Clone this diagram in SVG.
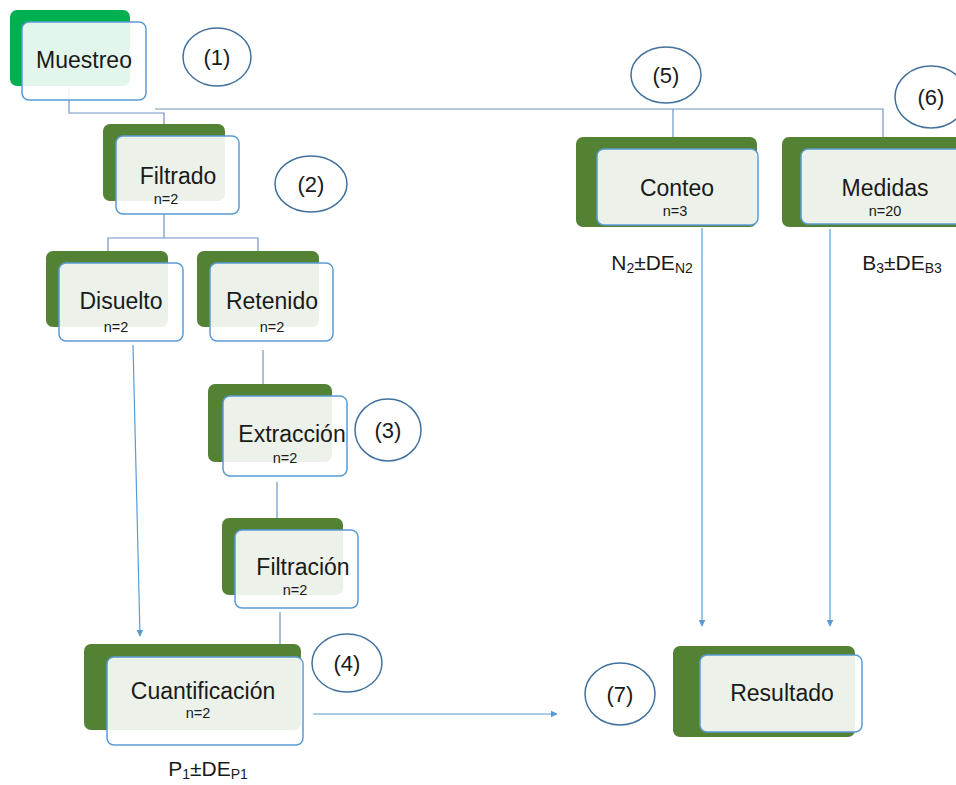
<svg xmlns="http://www.w3.org/2000/svg" width="956" height="785" viewBox="0 0 956 785">
<defs>
<style>
.bk{fill:#548235;}
.bkg{fill:#00B050;}
.fr{fill:#ffffff;fill-opacity:0.89;stroke:#5B9BD5;stroke-width:1.5;}
.lbl{font-family:"Liberation Sans",Arial,sans-serif;font-size:23px;fill:#1a1a1a;text-anchor:middle;}
.n{font-family:"Liberation Sans",Arial,sans-serif;font-size:14.5px;fill:#1a1a1a;text-anchor:middle;}
.el{fill:#ffffff;stroke:#41719C;stroke-width:1.5;}
.num{font-family:"Liberation Sans",Arial,sans-serif;font-size:22px;fill:#1a1a1a;text-anchor:middle;}
.res{font-family:"Liberation Sans",Arial,sans-serif;font-size:21px;fill:#1a1a1a;text-anchor:middle;}
.ln{fill:none;stroke:#6F93C2;stroke-width:1.2;}
.ar{fill:none;stroke:#5B9BD5;stroke-width:1.2;marker-end:url(#ah);}
</style>
<marker id="ah" viewBox="0 0 10 10" refX="9" refY="5" markerWidth="7" markerHeight="7" orient="auto" markerUnits="userSpaceOnUse">
<path d="M0,0 L10,5 L0,10 z" fill="#5B9BD5"/>
</marker>
</defs>
<rect width="956" height="785" fill="#ffffff"/>

<g id="connectors">
<polyline class="ln" points="69,88 69,113 164,113 164,124"/>
<polyline class="ln" points="155,109 883,109 883,155"/>
<line class="ln" x1="673" y1="109" x2="673" y2="149"/>
<polyline class="ln" points="164,214 164,238"/>
<polyline class="ln" points="108,251 108,238 258,238 258,251"/>
<line class="ln" x1="263" y1="350" x2="263" y2="384"/>
<line class="ln" x1="277" y1="482" x2="277" y2="518"/>
<line class="ln" x1="280" y1="612" x2="280" y2="644"/>
<line class="ar" x1="133" y1="345" x2="140" y2="636"/>
<line class="ar" x1="313" y1="714" x2="557" y2="714"/>
<line class="ar" x1="702" y1="228" x2="702" y2="626"/>
<line class="ar" x1="830" y1="229" x2="830" y2="626"/>
</g>

<g id="muestreo">
<rect class="bkg" x="10" y="10" width="120" height="76" rx="7"/>
<rect class="fr" x="22" y="22" width="124" height="78" rx="7"/>
<text class="lbl" x="84" y="68">Muestreo</text>
</g>
<g id="e1"><ellipse class="el" cx="217" cy="57" rx="34" ry="29"/><text class="num" x="217" y="65">(1)</text></g>

<g id="filtrado">
<rect class="bk" x="103" y="124" width="122" height="77" rx="7"/>
<rect class="fr" x="116" y="136" width="123" height="78" rx="7"/>
<text class="lbl" x="178" y="184">Filtrado</text>
<text class="n" x="166" y="204">n=2</text>
</g>
<g id="e2"><ellipse class="el" cx="311" cy="184" rx="36" ry="28"/><text class="num" x="311" y="192">(2)</text></g>

<g id="disuelto">
<rect class="bk" x="46" y="251" width="122" height="76" rx="7"/>
<rect class="fr" x="59" y="263" width="124" height="78" rx="7"/>
<text class="lbl" x="121" y="309">Disuelto</text>
<text class="n" x="116" y="332">n=2</text>
</g>

<g id="retenido">
<rect class="bk" x="197" y="251" width="122" height="76" rx="7"/>
<rect class="fr" x="210" y="263" width="123" height="78" rx="7"/>
<text class="lbl" x="272" y="309">Retenido</text>
<text class="n" x="272" y="332">n=2</text>
</g>

<g id="extraccion">
<rect class="bk" x="208" y="384" width="124" height="78" rx="7"/>
<rect class="fr" x="223" y="396" width="124" height="80" rx="7"/>
<text class="lbl" x="292" y="442">Extracción</text>
<text class="n" x="285" y="463">n=2</text>
</g>
<g id="e3"><ellipse class="el" cx="388" cy="430" rx="33" ry="31"/><text class="num" x="388" y="438">(3)</text></g>

<g id="filtracion">
<rect class="bk" x="222" y="518" width="121" height="77" rx="7"/>
<rect class="fr" x="235" y="530" width="123" height="78" rx="7"/>
<text class="lbl" x="303" y="575">Filtración</text>
<text class="n" x="295" y="595">n=2</text>
</g>

<g id="cuantificacion">
<rect class="bk" x="84" y="644" width="217" height="86" rx="7"/>
<rect class="fr" x="107" y="657" width="196" height="88" rx="7"/>
<text class="lbl" x="203" y="699">Cuantificación</text>
<text class="n" x="198" y="718">n=2</text>
</g>
<g id="e4"><ellipse class="el" cx="347" cy="663" rx="35" ry="29"/><text class="num" x="347" y="671">(4)</text></g>
<text class="res" x="208" y="776">P<tspan font-size="14" dy="3">1</tspan><tspan dy="-3">±DE</tspan><tspan font-size="14" dy="3">P1</tspan></text>

<g id="conteo">
<rect class="bk" x="576" y="137" width="181" height="90" rx="7"/>
<rect class="fr" x="597" y="149" width="161" height="76" rx="7"/>
<text class="lbl" x="677" y="196">Conteo</text>
<text class="n" x="675" y="216">n=3</text>
</g>
<g id="e5"><ellipse class="el" cx="666" cy="75" rx="35" ry="28"/><text class="num" x="666" y="83">(5)</text></g>
<text class="res" x="652" y="270">N<tspan font-size="14" dy="3">2</tspan><tspan dy="-3">±DE</tspan><tspan font-size="14" dy="3">N2</tspan></text>

<g id="medidas">
<rect class="bk" x="782" y="137" width="190" height="90" rx="7"/>
<rect class="fr" x="801" y="149" width="170" height="75" rx="7"/>
<text class="lbl" x="885" y="196">Medidas</text>
<text class="n" x="885" y="216">n=20</text>
</g>
<g id="e6"><ellipse class="el" cx="931" cy="97" rx="36" ry="31"/><text class="num" x="931" y="105">(6)</text></g>
<text class="res" x="902" y="270">B<tspan font-size="14" dy="3">3</tspan><tspan dy="-3">±DE</tspan><tspan font-size="14" dy="3">B3</tspan></text>

<g id="resultado">
<rect class="bk" x="673" y="646" width="182" height="91" rx="7"/>
<rect class="fr" x="700" y="655" width="162" height="77" rx="7"/>
<text class="lbl" x="782" y="701">Resultado</text>
</g>
<g id="e7"><ellipse class="el" cx="620" cy="694" rx="35" ry="31"/><text class="num" x="620" y="702">(7)</text></g>
</svg>
